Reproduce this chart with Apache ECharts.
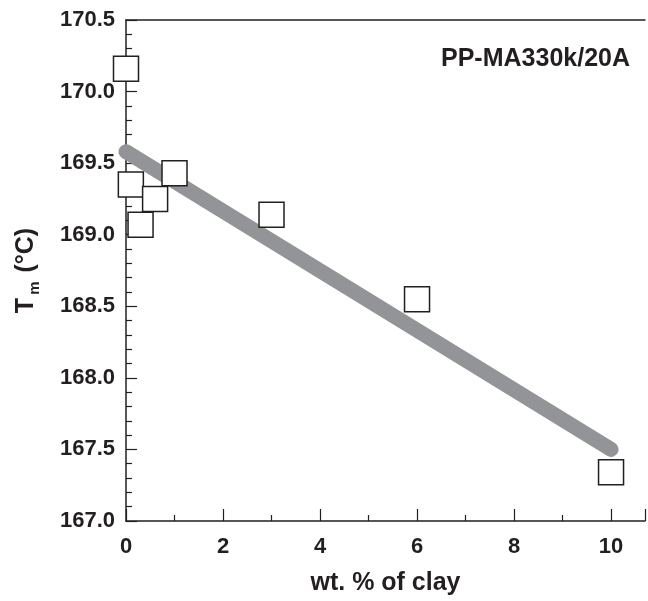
<!DOCTYPE html>
<html>
<head>
<meta charset="utf-8">
<script src="https://cdn.jsdelivr.net/npm/echarts@6/dist/echarts.min.js"></script>
<style>html,body{margin:0;padding:0;background:#fff;}#c{width:648px;height:601px;}</style>
</head>
<body>
<div id="c"></div>
<script>
var clayX = [0, 0.1, 0.3, 0.6, 1, 3, 6, 10];
var tmY = [170.16, 169.35, 169.07, 169.25, 169.43, 169.14, 168.55, 167.34];
var fitX = [0, 10];
var fitY = [169.58, 167.5];
var xTicks = [0, 2, 4, 6, 8, 10];
var yTicks = [167.0, 167.5, 168.0, 168.5, 169.0, 169.5, 170.0, 170.5];

var chart = echarts.init(document.getElementById('c'));
var ink = '#231f20';
var font = 'Liberation Sans, Arial, sans-serif';
var scatterData = clayX.map(function (x, i) { return [x, tmY[i]]; });
var fitData = fitX.map(function (x, i) { return [x, fitY[i]]; });

chart.setOption({
  animation: false,
  backgroundColor: '#fff',
  title: {
    text: 'PP-MA330k/20A',
    right: 13, top: 42,
    textStyle: { fontFamily: font, fontWeight: 'bold', fontSize: 25, color: ink }
  },
  grid: { left: 126, right: 3, top: 20, bottom: 77, containLabel: false },
  xAxis: [{
    type: 'value', min: 0, max: 10.7, interval: 2,
    name: 'wt. % of clay', nameLocation: 'middle', nameGap: 50,
    nameTextStyle: { fontFamily: font, fontWeight: 'bold', fontSize: 25, color: ink },
    axisLine: { lineStyle: { color: ink, width: 1.5 } },
    axisTick: { inside: true, length: 12, lineStyle: { color: ink, width: 1.2 } },
    minorTick: { show: true, splitNumber: 2, length: 6, lineStyle: { color: ink, width: 1.2 } },
    splitLine: { show: false },
    axisLabel: {
      margin: 15, fontFamily: font, fontWeight: 'bold', fontSize: 22, color: ink,
      showMaxLabel: false,
      formatter: function (v) { return xTicks.indexOf(v) >= 0 ? String(v) : ''; }
    }
  }, {
    type: 'value', position: 'top', min: 0, max: 10.7,
    axisLine: { show: true, onZero: false, lineStyle: { color: ink, width: 1.5 } },
    axisTick: { show: false }, axisLabel: { show: false }, splitLine: { show: false }
  }],
  yAxis: {
    type: 'value', min: 167.0, max: 170.5, interval: 0.5,
    name: '{b|T}{s|m}{b| (°C)}', nameLocation: 'middle', nameGap: 84, nameRotate: 90,
    nameTextStyle: {
      rich: {
        b: { fontFamily: font, fontWeight: 'bold', fontSize: 25, color: ink },
        s: { fontFamily: font, fontWeight: 'bold', fontSize: 15, color: ink, verticalAlign: 'bottom', padding: [16, 2, 0, 3] }
      }
    },
    axisLine: { show: true, lineStyle: { color: ink, width: 1.5 } },
    axisTick: { inside: true, length: 11, lineStyle: { color: ink, width: 1.2 } },
    minorTick: { show: true, splitNumber: 5, length: 6, lineStyle: { color: ink, width: 1.2 } },
    splitLine: { show: false },
    axisLabel: {
      margin: 11, fontFamily: font, fontWeight: 'bold', fontSize: 22, color: ink,
      formatter: function (v) { return v.toFixed(1); }
    }
  },
  series: [{
    type: 'line', data: fitData, symbol: 'none', z: 1,
    lineStyle: { color: '#929497', width: 15, cap: 'round' }
  }, {
    type: 'scatter', data: scatterData, symbol: 'rect', symbolSize: 25, z: 3,
    itemStyle: { color: '#fff', borderColor: ink, borderWidth: 1.5, opacity: 1 }
  }]
});
</script>
</body>
</html>
